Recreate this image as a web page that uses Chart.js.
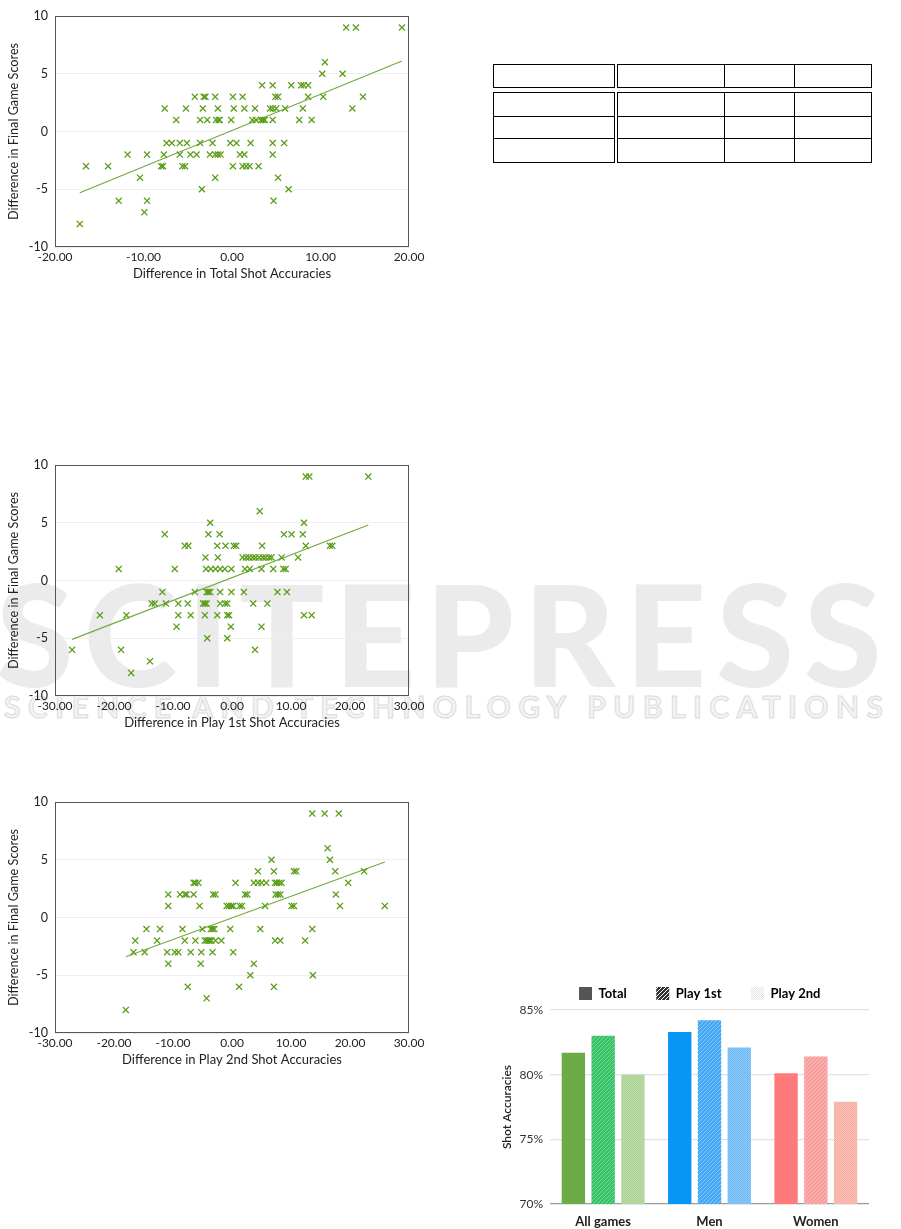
<!DOCTYPE html>
<html>
<head>
<meta charset="utf-8">
<script src="https://cdn.jsdelivr.net/npm/chart.js@4.4.1/dist/chart.umd.min.js"></script>
<style>
body { margin: 0; background: #fff; }
#page { position: relative; width: 901px; height: 1229px; overflow: hidden; font-family: Lato, sans-serif; }
.box { position: absolute; z-index: 2; }
.wm { position: absolute; z-index: 1; white-space: nowrap; font-family: Lato, sans-serif; font-weight: 900; }
table.t { position: absolute; z-index: 2; border-collapse: collapse; table-layout: fixed; }
table.t td { border: 1.3px solid #000; padding: 0; }
table.t td.dbl { border-right: 4px double #000; }
</style>
</head>
<body>
<div id="page">
  <div class="wm" style="left:-4px; top:548px; font-size:141px; color:#ebebeb; letter-spacing:10px;">SCITEPRESS</div>
  <div class="wm" style="left:4px; top:688px; font-size:30px; font-weight:700; color:#f3f3f3; -webkit-text-stroke:1px #dcdcdc; letter-spacing:7.4px;">SCIENCE AND TECHNOLOGY PUBLICATIONS</div>

  <table class="t" style="left:493px; top:64px; width:379px;">
    <tr style="height:23px"><td class="dbl" style="width:120px"></td><td style="width:106px"></td><td style="width:69px"></td><td></td></tr>
  </table>
  <table class="t" style="left:493px; top:92px; width:379px;">
    <tr style="height:24px"><td class="dbl" style="width:120px"></td><td style="width:106px"></td><td style="width:69px"></td><td></td></tr>
    <tr style="height:22px"><td class="dbl"></td><td></td><td></td><td></td></tr>
    <tr style="height:24px"><td class="dbl"></td><td></td><td></td><td></td></tr>
  </table>

  <div class="box" style="left:0; top:0; width:440px; height:290px;"><canvas id="c1"></canvas></div>
  <div class="box" style="left:0; top:449px; width:440px; height:290px;"><canvas id="c2"></canvas></div>
  <div class="box" style="left:0; top:786px; width:440px; height:290px;"><canvas id="c3"></canvas></div>
  <div class="box" style="left:490px; top:975px; width:390px; height:254px;"><canvas id="c4"></canvas></div>
</div>
<script>
// scatter data: [difference in shot accuracy, difference in final score]
const totalPts = [
  [12.9,9],[14.0,9],[19.2,9],
  [10.5,6],
  [10.2,5],[12.5,5],
  [3.4,4],[4.6,4],[6.7,4],[7.8,4],[8.1,4],[8.6,4],
  [-4.2,3],[-3.2,3],[-3.0,3],[-1.9,3],[0.1,3],[1.2,3],[4.9,3],[5.2,3],[8.6,3],[10.3,3],[14.8,3],
  [-7.6,2],[-5.2,2],[-3.3,2],[-1.6,2],[0.2,2],[1.4,2],[2.6,2],[4.3,2],[4.6,2],[5.0,2],[6.0,2],[8.0,2],[13.6,2],
  [-6.3,1],[-3.6,1],[-2.8,1],[-1.8,1],[-1.5,1],[-1.4,1],[-0.1,1],[2.3,1],[2.7,1],[3.3,1],[3.5,1],[3.7,1],[4.6,1],[7.6,1],[9.0,1],
  [-7.4,-1],[-6.8,-1],[-5.9,-1],[-5.1,-1],[-3.6,-1],[-2.2,-1],[-0.2,-1],[0.5,-1],[2.1,-1],[4.6,-1],[5.9,-1],
  [-11.8,-2],[-9.6,-2],[-7.7,-2],[-5.9,-2],[-4.7,-2],[-4.0,-2],[-2.5,-2],[-1.9,-2],[-1.6,-2],[-1.3,-2],[0.9,-2],[1.4,-2],[4.6,-2],
  [-16.5,-3],[-14.0,-3],[-8.0,-3],[-7.8,-3],[-5.6,-3],[-5.3,-3],[0.1,-3],[1.2,-3],[1.6,-3],[2.0,-3],[3.0,-3],
  [-10.4,-4],[-1.9,-4],[5.2,-4],
  [-3.4,-5],[6.4,-5],
  [-12.8,-6],[-9.6,-6],[4.7,-6],
  [-9.9,-7],
  [-17.2,-8]
];
const totalTrendX = [-17.2, 19.2];
const totalTrendY = [-5.3, 6.1];

const play1Pts = [
  [12.5,9],[13.1,9],[23.1,9],
  [4.7,6],
  [-3.7,5],[12.2,5],
  [-11.4,4],[-4.0,4],[-2.1,4],[8.8,4],[10.1,4],[12.0,4],
  [-8.0,3],[-7.4,3],[-2.5,3],[-1.1,3],[0.3,3],[0.7,3],[5.1,3],[12.5,3],[16.6,3],[17.0,3],
  [-4.5,2],[-2.4,2],[1.8,2],[2.4,2],[2.9,2],[3.5,2],[4.0,2],[4.6,2],[5.2,2],[5.7,2],[6.3,2],[6.7,2],[8.4,2],[11.2,2],
  [-19.2,1],[-9.7,1],[-4.4,1],[-3.6,1],[-2.8,1],[-2.0,1],[-1.2,1],[-0.1,1],[2.2,1],[3.0,1],[5.0,1],[7.0,1],[8.7,1],[9.1,1],
  [-11.8,-1],[-6.3,-1],[-4.3,-1],[-4.0,-1],[-3.7,-1],[-2.0,-1],[-0.1,-1],[2.0,-1],[7.7,-1],[9.3,-1],
  [-13.6,-2],[-13.1,-2],[-11.2,-2],[-9.1,-2],[-7.5,-2],[-4.9,-2],[-4.6,-2],[-4.3,-2],[-2.0,-2],[-1.2,-2],[-0.8,-2],[3.6,-2],[6.0,-2],
  [-22.4,-3],[-17.9,-3],[-9.1,-3],[-7.0,-3],[-4.6,-3],[-2.5,-3],[-0.8,-3],[-0.5,-3],[12.2,-3],[13.5,-3],
  [-9.4,-4],[-0.2,-4],[5.0,-4],
  [-4.2,-5],[-0.8,-5],
  [-27.1,-6],[-18.8,-6],[3.9,-6],
  [-13.9,-7],
  [-17.1,-8]
];
const play1TrendX = [-27.1, 23.1];
const play1TrendY = [-5.1, 4.8];

const play2Pts = [
  [13.6,9],[15.7,9],[18.1,9],
  [16.2,6],
  [6.7,5],[16.6,5],
  [4.4,4],[7.1,4],[10.5,4],[10.9,4],[17.5,4],[22.4,4],
  [-6.5,3],[-6.2,3],[-5.7,3],[0.6,3],[3.7,3],[4.4,3],[5.0,3],[5.8,3],[7.3,3],[7.6,3],[8.0,3],[8.4,3],[19.7,3],
  [-10.8,2],[-8.8,2],[-8.0,2],[-7.7,2],[-6.5,2],[-3.2,2],[-2.8,2],[2.2,2],[2.6,2],[7.4,2],[7.8,2],[8.2,2],[17.6,2],
  [-10.8,1],[-5.5,1],[-0.9,1],[-0.5,1],[-0.1,1],[0.2,1],[1.3,1],[1.7,1],[5.6,1],[10.1,1],[10.5,1],[18.3,1],[25.9,1],
  [-14.5,-1],[-12.2,-1],[-8.4,-1],[-5.0,-1],[-3.6,-1],[-3.3,-1],[-3.0,-1],[-0.3,-1],[4.8,-1],[13.6,-1],
  [-16.4,-2],[-12.7,-2],[-8.0,-2],[-6.2,-2],[-4.6,-2],[-4.3,-2],[-4.0,-2],[-3.8,-2],[-3.5,-2],[-2.8,-2],[-1.8,-2],[7.3,-2],[8.2,-2],[12.4,-2],
  [-16.7,-3],[-14.8,-3],[-11.0,-3],[-9.7,-3],[-9.1,-3],[-7.0,-3],[-5.2,-3],[-3.3,-3],[0.2,-3],
  [-10.8,-4],[-5.3,-4],[3.7,-4],
  [3.1,-5],[13.7,-5],
  [-7.5,-6],[1.2,-6],[7.1,-6],
  [-4.3,-7],
  [-18.0,-8]
];
const play2TrendX = [-18.0, 25.9];
const play2TrendY = [-3.4, 4.8];

// bar chart data
const groups = ['All games', 'Men', 'Women'];
const totalAcc = [81.7, 83.3, 80.1];
const play1Acc = [83.0, 84.2, 81.4];
const play2Acc = [80.0, 82.1, 77.9];
const seriesNames = ['Total', 'Play 1st', 'Play 2nd'];
const yTicksBar = [70, 75, 80, 85];

Chart.defaults.font.family = 'Lato, sans-serif';
Chart.defaults.color = '#222';

const frame = {
  id: 'frame',
  afterDatasetsDraw(chart, args, opts) {
    if (!opts.color) return;
    const a = chart.chartArea, ctx = chart.ctx;
    ctx.save();
    ctx.strokeStyle = opts.color;
    ctx.lineWidth = 1;
    ctx.strokeRect(Math.round(a.left) + 0.5, Math.round(a.top) + 0.5, Math.round(a.width) - 1, Math.round(a.height) - 1);
    ctx.restore();
  }
};
Chart.register(frame);

function scatterChart(id, pts, trendX, trendY, xMin, xMax, xTitle) {
  return new Chart(document.getElementById(id), {
    type: 'scatter',
    data: {
      datasets: [
        {
          data: pts.map(p => ({ x: p[0], y: p[1] })),
          pointStyle: 'crossRot', pointRadius: 4.3,
          borderColor: '#5a9d17', backgroundColor: '#5a9d17', borderWidth: 1.3
        },
        {
          type: 'line',
          data: trendX.map((x, i) => ({ x: x, y: trendY[i] })),
          borderColor: '#74aa42', borderWidth: 1.2, pointRadius: 0, fill: false
        }
      ]
    },
    options: {
      animation: false, responsive: true, maintainAspectRatio: false,
      layout: { padding: { left: 0, right: 31, top: 16, bottom: 0 } },
      plugins: { legend: { display: false }, tooltip: { enabled: false }, frame: { color: '#555' } },
      scales: {
        x: {
          type: 'linear', min: xMin, max: xMax,
          afterFit: s => { s.height = 43; },
          grid: { display: false, drawTicks: false }, border: { display: false },
          ticks: { stepSize: 10, autoSkip: false, maxRotation: 0, padding: 3, font: { size: 12 },
                   callback: v => v.toFixed(2) },
          title: { display: true, text: xTitle, font: { size: 13 }, padding: { top: 0, bottom: 8 } }
        },
        y: {
          min: -10, max: 10,
          afterFit: s => { s.width = 55; },
          grid: { color: '#efefef', drawTicks: false }, border: { display: false },
          ticks: { stepSize: 5, padding: 7, font: { size: 12.5 } },
          title: { display: true, text: 'Difference in Final Game Scores', font: { size: 12.7 }, padding: { top: 6, bottom: 0 } }
        }
      }
    }
  });
}

scatterChart('c1', totalPts, totalTrendX, totalTrendY, -20, 20, 'Difference in Total Shot Accuracies');
scatterChart('c2', play1Pts, play1TrendX, play1TrendY, -30, 30, 'Difference in Play 1st Shot Accuracies');
scatterChart('c3', play2Pts, play2TrendX, play2TrendY, -30, 30, 'Difference in Play 2nd Shot Accuracies');

// fill patterns for the bars
function hatch(color, line) {
  const c = document.createElement('canvas');
  c.width = 4; c.height = 4;
  const g = c.getContext('2d');
  g.fillStyle = color; g.fillRect(0, 0, 4, 4);
  g.strokeStyle = line; g.lineWidth = 1;
  g.beginPath();
  g.moveTo(0, 4); g.lineTo(4, 0);
  g.moveTo(-1, 1); g.lineTo(1, -1);
  g.moveTo(3, 5); g.lineTo(5, 3);
  g.stroke();
  return g.createPattern(c, 'repeat');
}
function dots(color, dot) {
  const c = document.createElement('canvas');
  c.width = 2; c.height = 2;
  const g = c.getContext('2d');
  g.fillStyle = color; g.fillRect(0, 0, 2, 2);
  g.fillStyle = dot; g.fillRect(0, 0, 1, 1); g.fillRect(1, 1, 1, 1);
  return g.createPattern(c, 'repeat');
}

const totalColors = ['#6cab48', '#0795f6', '#ff7b7b'];
const play1Colors = [hatch('#35c165', 'rgba(255,255,255,0.35)'), hatch('#45a8f4', 'rgba(255,255,255,0.35)'), hatch('#f89c9c', 'rgba(255,255,255,0.35)')];
const play2Colors = [dots('#a9d18f', 'rgba(255,255,255,0.25)'), dots('#6ab9f6', 'rgba(255,255,255,0.25)'), dots('#f9aca2', 'rgba(255,255,255,0.25)')];
const legendFills = ['#555', hatch('#333', '#fff'), dots('#e4e4e4', '#fff')];
const legendGap = '\u2002\u2002\u2002';

new Chart(document.getElementById('c4'), {
  type: 'bar',
  data: {
    labels: groups,
    datasets: [
      { label: seriesNames[0], data: totalAcc, backgroundColor: totalColors },
      { label: seriesNames[1], data: play1Acc, backgroundColor: play1Colors },
      { label: seriesNames[2], data: play2Acc, backgroundColor: play2Colors }
    ]
  },
  options: {
    animation: false, responsive: true, maintainAspectRatio: false,
    categoryPercentage: 0.84, barPercentage: 0.785,
    layout: { padding: { left: 0, right: 11, top: 2, bottom: 0 } },
    plugins: {
      tooltip: { enabled: false },
      legend: {
        position: 'top', fullSize: false,
        labels: {
          boxWidth: 13, boxHeight: 13, padding: 10, font: { size: 13, weight: 'bold' }, color: '#333',
          generateLabels: () => seriesNames.map((n, i) => ({
            text: n + legendGap, fillStyle: legendFills[i], strokeStyle: 'rgba(0,0,0,0)', lineWidth: 0, datasetIndex: i
          }))
        }
      }
    },
    scales: {
      x: {
        afterFit: s => { s.height = 25; },
        grid: { display: false, drawTicks: false }, border: { display: false },
        ticks: { padding: 10, font: { size: 13, weight: 'bold' }, color: '#222' }
      },
      y: {
        min: 70, max: 85,
        afterFit: s => { s.width = 60; },
        afterBuildTicks: s => { s.ticks = yTicksBar.map(v => ({ value: v })); },
        grid: { drawTicks: false, lineWidth: 1.2, color: c => c.tick && c.tick.value === 70 ? '#9a9a9a' : '#e2e2e2' },
        border: { display: false },
        ticks: { padding: 7, font: { size: 12 }, color: '#333', callback: v => v + '%' },
        title: { display: true, text: 'Shot Accuracies', font: { size: 12, weight: '600' }, color: '#222', padding: { top: 10, bottom: 0 } }
      }
    }
  }
});
</script>
</body>
</html>
